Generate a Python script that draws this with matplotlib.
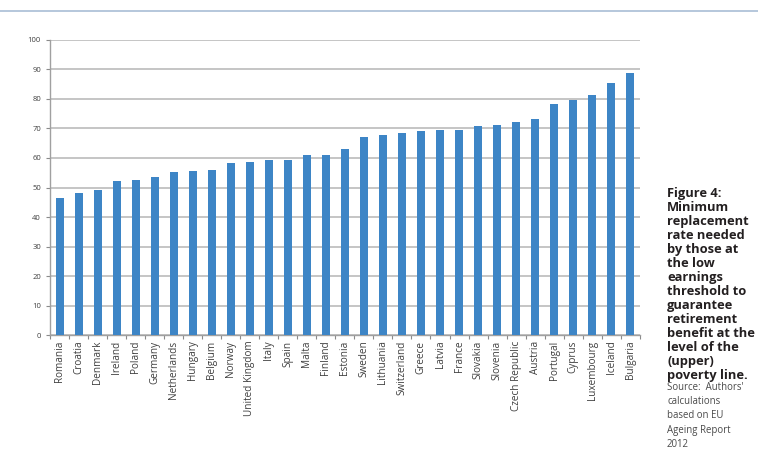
import matplotlib
matplotlib.use("Agg")
import matplotlib.pyplot as plt
from matplotlib.lines import Line2D

plt.rcParams['font.family'] = ['Open Sans', 'DejaVu Sans']

# Data
countries = ["Romania", "Croatia", "Denmark", "Ireland", "Poland", "Germany",
             "Netherlands", "Hungary", "Belgium", "Norway", "United Kingdom",
             "Italy", "Spain", "Malta", "Finland", "Estonia", "Sweden",
             "Lithuania", "Switzerland", "Greece", "Latvia", "France",
             "Slovakia", "Slovenia", "Czech Republic", "Austria", "Portugal",
             "Cyprus", "Luxembourg", "Iceland", "Bulgaria"]
rates = [46.3, 48.0, 49.1, 52.1, 52.5, 53.7, 55.4, 55.6, 56.1, 58.2, 58.7,
         59.3, 59.3, 60.9, 60.9, 62.9, 67.0, 67.7, 68.6, 69.3, 69.5, 69.5,
         70.8, 71.3, 72.1, 73.1, 78.4, 79.7, 81.4, 85.5, 88.7]
yticks = list(range(0, 101, 10))

caption = ("Figure 4:\nMinimum\nreplacement\nrate needed\nby those at\nthe low\n"
           "earnings\nthreshold to\nguarantee\nretirement\nbenefit at the\n"
           "level of the\n(upper)\npoverty line.")
source = "Source:  Authors'\ncalculations\nbased on EU\nAgeing Report\n2012"

fig = plt.figure(figsize=(7.58, 4.54), dpi=100)
ax = fig.add_axes([0.066, 0.262, 0.778, 0.65])

x = range(len(countries))
ax.bar(x, rates, width=0.42, color="#3d85c6", zorder=3)

ax.set_xlim(-0.5, len(countries) - 0.5)
ax.set_ylim(0, 100)
ax.set_yticks(yticks)
ax.yaxis.grid(True, color="#c0c0c0", linewidth=1.3, zorder=0)
ax.tick_params(axis="y", labelsize=5.5, colors="#8a8a8a", labelcolor="#404040",
               length=3, width=0.8)

ax.set_xticks(list(x))
ax.set_xticklabels(countries, rotation=90, fontsize=7.2, color="#404040")
ax.tick_params(axis="x", length=0, pad=4)
# tick marks between categories, Excel style
ax.set_xticks([i - 0.5 for i in range(len(countries) + 1)], minor=True)
ax.tick_params(axis="x", which="minor", length=3, width=0.8, colors="#8a8a8a")

for side in ["top", "right"]:
    ax.spines[side].set_visible(False)
ax.spines["left"].set_color("#a0a0a0")
ax.spines["bottom"].set_color("#a0a0a0")
ax.spines["left"].set_linewidth(1.0)
ax.spines["bottom"].set_linewidth(1.0)

# thin rule along the top of the page
fig.add_artist(Line2D([0, 1], [0.975, 0.975], color="#a9bed5", linewidth=1.2))

# side caption, anchored on the baseline of its last line
fig.text(0.88, 0.166, caption, fontsize=9.3, fontweight="bold", color="#231f20",
         va="baseline", ha="left", linespacing=1.1)
fig.text(0.88, 0.0154, source, fontsize=6.9, color="#4a4a4a",
         va="baseline", ha="left", linespacing=1.42)

fig.savefig("out.png", dpi=100)
